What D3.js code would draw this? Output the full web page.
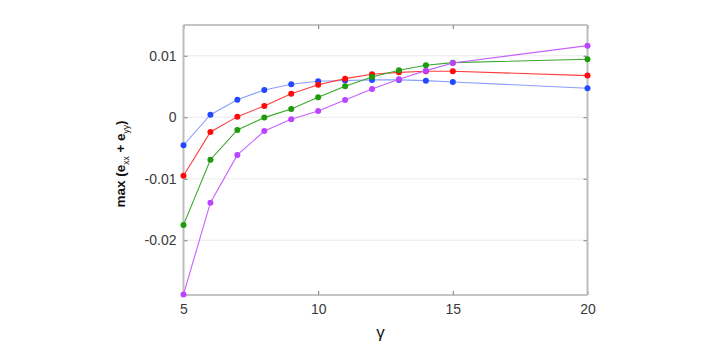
<!DOCTYPE html>
<html>
<head>
<meta charset="utf-8">
<script src="https://cdn.jsdelivr.net/npm/d3@7"></script>
<style>
  body { margin: 0; background: #fff; }
  text { font-family: "Liberation Sans", Arial, sans-serif; }
</style>
</head>
<body>
<div id="chart"></div>
<script>
var gammas = [5, 6, 7, 8, 9, 10, 11, 12, 13, 14, 15, 20];
var blueVals = [-0.00455, 0.00042, 0.00286, 0.00444, 0.00536, 0.00585, 0.00598, 0.00607, 0.00607, 0.00595, 0.00574, 0.00471];
var redVals = [-0.0095, -0.00239, 0.0001, 0.00184, 0.00384, 0.0053, 0.00628, 0.0070, 0.0073, 0.00748, 0.00748, 0.00677];
var greenVals = [-0.0175, -0.0069, -0.00207, -0.00006, 0.00135, 0.00325, 0.00504, 0.00655, 0.00764, 0.00846, 0.00888, 0.00943];
var purpleVals = [-0.0288, -0.01389, -0.00613, -0.00223, -0.00033, 0.00102, 0.00281, 0.0046, 0.00618, 0.00758, 0.00883, 0.01164];
var xTicks = [5, 10, 15, 20];
var yTicks = [-0.02, -0.01, 0, 0.01];

var series = [
  { vals: blueVals, line: "#8b9dff", dot: "#2448ff" },
  { vals: redVals, line: "#ff3b3b", dot: "#ff0a0a" },
  { vals: greenVals, line: "#3aa82a", dot: "#1e9a0a" },
  { vals: purpleVals, line: "#c562ff", dot: "#bb45ff" }
];

var width = 706, height = 344;
var plotLeft = 183.5, plotRight = 587.5, plotTop = 25, plotBottom = 295;

var svg = d3.select("#chart").append("svg")
  .attr("width", width).attr("height", height);

var x = d3.scaleLinear().domain([5, 20]).range([plotLeft, plotRight]);
var y = d3.scaleLinear().domain([-0.0289, 0.015]).range([plotBottom, plotTop]);

/// grid
svg.append("g").selectAll("line").data(yTicks).enter().append("line")
  .attr("x1", plotLeft).attr("x2", plotRight)
  .attr("y1", function (d) { return y(d); })
  .attr("y2", function (d) { return y(d); })
  .attr("stroke", "#ebebeb").attr("stroke-width", 1);

/// axes
var xAxis = d3.axisBottom(x).tickValues(xTicks).tickSize(-4).tickPadding(9)
  .tickFormat(d3.format("d"));
var yAxis = d3.axisLeft(y).tickValues(yTicks).tickSize(-4).tickPadding(7)
  .tickFormat(function (d) { return d === 0 ? "0" : d3.format(".2f")(d).replace("\u2212", "-"); });

function styleAxis(g) {
  g.select(".domain").remove();
  g.selectAll("line").attr("stroke", "#7a7a7a");
  g.selectAll("text").attr("fill", "#3a3a3a").style("font-size", "14px");
}

svg.append("g").attr("transform", "translate(0," + plotBottom + ")").call(xAxis).call(styleAxis);
svg.append("g").attr("transform", "translate(" + plotLeft + ",0)").call(yAxis).call(styleAxis);
svg.append("g").attr("transform", "translate(0," + plotTop + ")")
  .call(d3.axisTop(x).tickValues(xTicks).tickSize(-4).tickFormat(""))
  .call(styleAxis);
svg.append("g").attr("transform", "translate(" + plotRight + ",0)")
  .call(d3.axisRight(y).tickValues(yTicks).tickSize(-4).tickFormat(""))
  .call(styleAxis);

/// box
svg.append("line").attr("x1", plotLeft).attr("x2", plotRight).attr("y1", plotTop).attr("y2", plotTop)
  .attr("stroke", "#8a8a8a").attr("stroke-width", 1);
svg.append("line").attr("x1", plotLeft).attr("x2", plotRight).attr("y1", plotBottom).attr("y2", plotBottom)
  .attr("stroke", "#8a8a8a").attr("stroke-width", 1);
svg.append("line").attr("x1", plotLeft).attr("x2", plotLeft).attr("y1", plotTop).attr("y2", plotBottom)
  .attr("stroke", "#bdbdbd").attr("stroke-width", 2);
svg.append("line").attr("x1", plotRight).attr("x2", plotRight).attr("y1", plotTop).attr("y2", plotBottom)
  .attr("stroke", "#bdbdbd").attr("stroke-width", 2);

/// lines and markers
var line = d3.line()
  .x(function (d, i) { return x(gammas[i]); })
  .y(function (d) { return y(d); });

series.forEach(function (s) {
  svg.append("path").datum(s.vals)
    .attr("d", line)
    .attr("fill", "none")
    .attr("stroke", s.line)
    .attr("stroke-width", 1.1);
  svg.append("g").selectAll("circle").data(s.vals).enter().append("circle")
    .attr("cx", function (d, i) { return x(gammas[i]); })
    .attr("cy", function (d) { return y(d); })
    .attr("r", 3)
    .attr("fill", s.dot);
});

/// labels
svg.append("text")
  .attr("x", (plotLeft + plotRight) / 2 - 5).attr("y", 338)
  .attr("text-anchor", "middle")
  .attr("fill", "#111")
  .style("font-size", "17px")
  .text("γ");

var yl = svg.append("text")
  .attr("transform", "translate(125,164) rotate(-90)")
  .attr("text-anchor", "middle")
  .attr("fill", "#111")
  .style("font-size", "13.5px")
  .style("font-weight", "bold");
yl.append("tspan").text("max (e");
yl.append("tspan").attr("dy", 4).style("font-size", "8.5px").style("font-weight", "normal").text("xx");
yl.append("tspan").attr("dy", -4).text(" + e");
yl.append("tspan").attr("dy", 4).style("font-size", "8.5px").style("font-weight", "normal").text("yy");
yl.append("tspan").attr("dy", -4).text(")");
</script>
</body>
</html>
